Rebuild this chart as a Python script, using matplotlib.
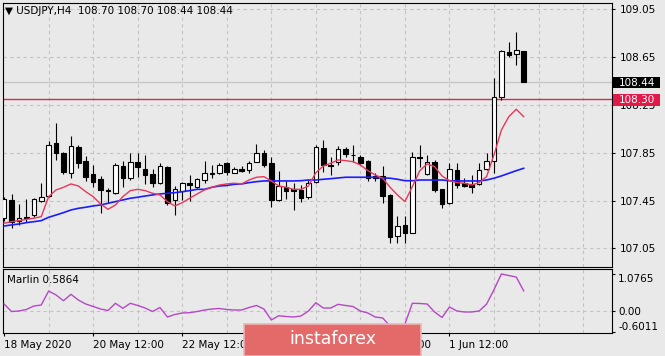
import matplotlib
matplotlib.use("Agg")
import matplotlib.pyplot as plt
import matplotlib.transforms as mtransforms
from matplotlib.patches import Rectangle

# USDJPY H4 candles (bar 0 = 18 May 12:00)
opens = [107.303, 107.456, 107.283, 107.310, 107.330, 107.450, 107.489, 107.930, 107.847, 107.684,
         107.902, 107.782, 107.674, 107.632, 107.542, 107.517, 107.740, 107.637, 107.776, 107.715,
         107.674, 107.596, 107.734, 107.456, 107.534, 107.601, 107.562, 107.619, 107.676, 107.682,
         107.766, 107.684, 107.713, 107.703, 107.776, 107.847, 107.768, 107.452, 107.562, 107.550,
         107.540, 107.479, 107.609, 107.889, 107.749, 107.776, 107.880, 107.832, 107.818, 107.782,
         107.657, 107.657, 107.498, 107.155, 107.247, 107.182, 107.813, 107.674, 107.776, 107.545,
         107.428, 107.707, 107.601, 107.587, 107.590, 107.713, 107.785, 108.315, 108.694, 108.675,
         108.700]
highs = [107.481, 107.504, 107.420, 107.462, 107.470, 107.601, 107.950, 108.098, 107.860, 107.991,
         107.916, 107.820, 107.749, 107.657, 107.556, 107.763, 107.785, 107.852, 107.852, 107.834,
         107.713, 107.763, 107.740, 107.573, 107.609, 107.665, 107.636, 107.786, 107.749, 107.768,
         107.776, 107.735, 107.740, 107.785, 107.925, 107.874, 107.812, 107.699, 107.611, 107.600,
         107.581, 107.623, 107.916, 107.958, 107.818, 107.908, 107.902, 107.916, 107.832, 107.791,
         107.684, 107.740, 107.506, 107.322, 107.322, 107.860, 107.916, 107.832, 107.791, 107.548,
         107.768, 107.768, 107.637, 107.665, 107.763, 107.847, 108.474, 108.711, 108.780, 108.864,
         108.700]
lows = [107.280, 107.219, 107.247, 107.274, 107.316, 107.442, 107.479, 107.791, 107.673, 107.637,
        107.721, 107.615, 107.562, 107.345, 107.428, 107.510, 107.567, 107.623, 107.651, 107.590,
        107.567, 107.590, 107.414, 107.330, 107.456, 107.447, 107.556, 107.598, 107.637, 107.673,
        107.665, 107.678, 107.690, 107.684, 107.770, 107.732, 107.400, 107.447, 107.462, 107.372,
        107.442, 107.468, 107.602, 107.693, 107.665, 107.749, 107.816, 107.776, 107.749, 107.617,
        107.617, 107.433, 107.099, 107.094, 107.094, 107.180, 107.735, 107.665, 107.526, 107.386,
        107.422, 107.554, 107.565, 107.517, 107.581, 107.707, 107.684, 108.293, 108.650, 108.585,
        108.440]
closes = [107.462, 107.274, 107.303, 107.305, 107.462, 107.478, 107.916, 107.847, 107.693, 107.910,
          107.768, 107.648, 107.609, 107.540, 107.535, 107.749, 107.637, 107.776, 107.730, 107.661,
          107.596, 107.740, 107.428, 107.544, 107.594, 107.577, 107.629, 107.684, 107.679, 107.749,
          107.694, 107.711, 107.699, 107.763, 107.847, 107.749, 107.456, 107.573, 107.527, 107.534,
          107.470, 107.601, 107.902, 107.749, 107.736, 107.880, 107.837, 107.830, 107.768, 107.637,
          107.637, 107.489, 107.149, 107.238, 107.182, 107.818, 107.811, 107.776, 107.540, 107.422,
          107.715, 107.581, 107.575, 107.567, 107.707, 107.782, 108.315, 108.703, 108.667, 108.711,
          108.440]

# moving averages as drawn on the chart
ma_fast = [107.261, 107.274, 107.283, 107.294, 107.303, 107.316, 107.484, 107.540, 107.562, 107.590,
           107.573, 107.525, 107.484, 107.422, 107.378, 107.414, 107.484, 107.534, 107.545, 107.534,
           107.512, 107.498, 107.442, 107.406, 107.433, 107.470, 107.506, 107.540, 107.562, 107.581,
           107.590, 107.596, 107.590, 107.623, 107.646, 107.651, 107.615, 107.573, 107.562, 107.545,
           107.545, 107.573, 107.684, 107.740, 107.763, 107.791, 107.785, 107.776, 107.749, 107.701,
           107.665, 107.638, 107.562, 107.498, 107.442, 107.567, 107.701, 107.757, 107.735, 107.657,
           107.617, 107.601, 107.596, 107.581, 107.601, 107.651, 107.833, 108.042, 108.153, 108.215,
           108.153]
ma_slow = [107.238, 107.247, 107.255, 107.266, 107.274, 107.283, 107.311, 107.330, 107.350, 107.372,
           107.386, 107.395, 107.406, 107.414, 107.428, 107.442, 107.456, 107.470, 107.479, 107.489,
           107.498, 107.506, 107.512, 107.517, 107.525, 107.534, 107.545, 107.545, 107.562, 107.573,
           107.577, 107.587, 107.590, 107.601, 107.609, 107.615, 107.615, 107.615, 107.615, 107.615,
           107.617, 107.623, 107.623, 107.629, 107.634, 107.640, 107.646, 107.646, 107.646, 107.646,
           107.646, 107.640, 107.638, 107.629, 107.617, 107.617, 107.623, 107.623, 107.623, 107.623,
           107.617, 107.615, 107.615, 107.615, 107.615, 107.623, 107.638, 107.657, 107.679, 107.701,
           107.721]

marlin = [0.203, -0.015, 0.0, 0.044, 0.145, 0.174, 0.581, 0.465, 0.299, 0.485,
          0.320, 0.203, 0.131, 0.058, 0.015, 0.224, 0.078, 0.224, 0.160, 0.087,
          -0.015, 0.102, -0.174, -0.102, -0.058, -0.049, -0.015, 0.029, 0.058, 0.073,
          0.044, 0.029, 0.029, 0.102, 0.160, 0.058, -0.262, -0.137, -0.160, -0.174,
          -0.145, 0.0, 0.241, 0.087, 0.087, 0.195, 0.160, 0.131, 0.0, -0.058,
          -0.174, -0.203, -0.436, -0.6011, -0.378, 0.224, 0.218, 0.203, -0.029, -0.189,
          0.116, 0.0, -0.029, -0.029, 0.0, 0.200, 0.620, 1.0765, 1.030, 0.988,
          0.5864]

time_ticks = [0, 12, 24, 36, 48, 60]
# the 26 May label sits fully under the watermark in the screenshot
time_labels = ['18 May 2020', '20 May 12:00', '22 May 12:00', '',
               '28 May 12:00', '1 Jun 12:00']
price_ticks = [107.05, 107.45, 107.85, 108.25, 108.65, 109.05]
marlin_ticks = [1.0765, 0.0, -0.6011]
marlin_labels = ['1.0765', '0.00', '-0.6011']

bid = 108.44
level = 108.30

bg = '#e9e9e9'
grid_col = '#c3c3c3'
fs = 7.5

fig = plt.figure(figsize=(6.65, 3.56), dpi=100, facecolor=bg)
ax = fig.add_axes([3 / 665, 1 - 267 / 356, 609 / 665, 264 / 356], facecolor=bg)
axm = fig.add_axes([3 / 665, 1 - 333.3 / 356, 609 / 665, 64 / 356], facecolor=bg)

n = len(opens)
idx = list(range(n))
xmin, xmax = -0.15, 81.9

# --- main price panel ---
for i in range(6, 82, 6):
    ax.axvline(i, color=grid_col, lw=0.8, ls=(0, (3, 3)), zorder=0)
    axm.axvline(i, color=grid_col, lw=0.8, ls=(0, (3, 3)), zorder=0)
for p in price_ticks:
    ax.axhline(p, color=grid_col, lw=0.8, ls=(0, (3, 3)), zorder=0)
axm.axhline(0.0, color=grid_col, lw=0.8, ls=(0, (3, 3)), zorder=0)

ax.axhline(bid, color='#c6c6c6', lw=1.0, zorder=1)
ax.axhline(level, color='#e0284e', lw=1.0, zorder=1)

ax.vlines(idx, lows, highs, color='black', lw=0.8, zorder=2)
bottoms = [min(o, c) for o, c in zip(opens, closes)]
heights = [max(abs(c - o), 0.001) for o, c in zip(opens, closes)]
faces = ['white' if c >= o else 'black' for o, c in zip(opens, closes)]
ax.bar(idx, heights, bottom=bottoms, width=0.62, color=faces,
       edgecolor='black', linewidth=0.8, zorder=3)

ax.plot(idx, ma_slow, color='#1c1cff', lw=1.2, zorder=4)
ax.plot(idx, ma_fast, color='#e8385a', lw=1.0, zorder=4)

ax.set_xlim(xmin, xmax)
ax.set_ylim(106.895, 109.104)
ax.yaxis.tick_right()
ax.set_yticks(price_ticks)
ax.set_yticklabels(['%.2f' % p for p in price_ticks])
ax.tick_params(axis='y', length=2, width=0.8, pad=3.5, labelsize=fs, colors='black')
ax.tick_params(axis='x', length=0, labelbottom=False)
for s in ax.spines.values():
    s.set_color('black')
    s.set_linewidth(0.8)

ax.text(0.004, 0.97, '\u25bc USDJPY,H4  108.70 108.70 108.44 108.44',
        transform=ax.transAxes, ha='left', va='center', fontsize=fs, color='black')

# price boxes on the right scale
trans = mtransforms.blended_transform_factory(ax.transAxes, ax.transData)
box_w = 47 / 609
for val, col, yc in [(bid, 'black', 108.437), (level, '#e3194b', 108.293)]:
    ax.add_patch(Rectangle((1.0015, yc - 0.047), box_w, 0.094, transform=trans,
                           facecolor=col, edgecolor='none', clip_on=False, zorder=10))
    ax.text(1.0015 + 6 / 609, yc, '%.2f' % val, transform=trans, ha='left', va='center',
            fontsize=fs, color='white', clip_on=False, zorder=11)

# --- Marlin panel ---
axm.plot(idx, marlin, color='#b548c6', lw=1.0, zorder=3)
axm.set_xlim(xmin, xmax)
axm.set_ylim(-0.648, 1.212)
axm.yaxis.tick_right()
axm.set_yticks(marlin_ticks)
axm.set_yticklabels(marlin_labels)
axm.tick_params(axis='y', length=2, width=0.8, pad=2.5, labelsize=fs, colors='black')
labs = axm.get_yticklabels()
labs[0].set_va('top')
labs[2].set_va('bottom')
axm.set_xticks(time_ticks)
axm.set_xticklabels(time_labels, ha='left')
axm.tick_params(axis='x', length=2, width=0.8, pad=2.5, labelsize=fs, colors='black')
for s in axm.spines.values():
    s.set_color('black')
    s.set_linewidth(0.8)
axm.text(0.006, 0.83, 'Marlin 0.5864', transform=axm.transAxes, ha='left', va='center',
         fontsize=fs, color='black')

# watermark
fig.add_artist(Rectangle((244 / 665, 0.0), 177 / 665, 32 / 356, transform=fig.transFigure,
                         facecolor='#e46a6a', edgecolor='#f0b4b4', lw=1.2, zorder=20))
fig.text(332.5 / 665, 1 - 339.5 / 356, 'instaforex', ha='center', va='center',
         fontsize=12.5, color='white', zorder=21)

fig.savefig('out.png', dpi=100, facecolor=bg)
